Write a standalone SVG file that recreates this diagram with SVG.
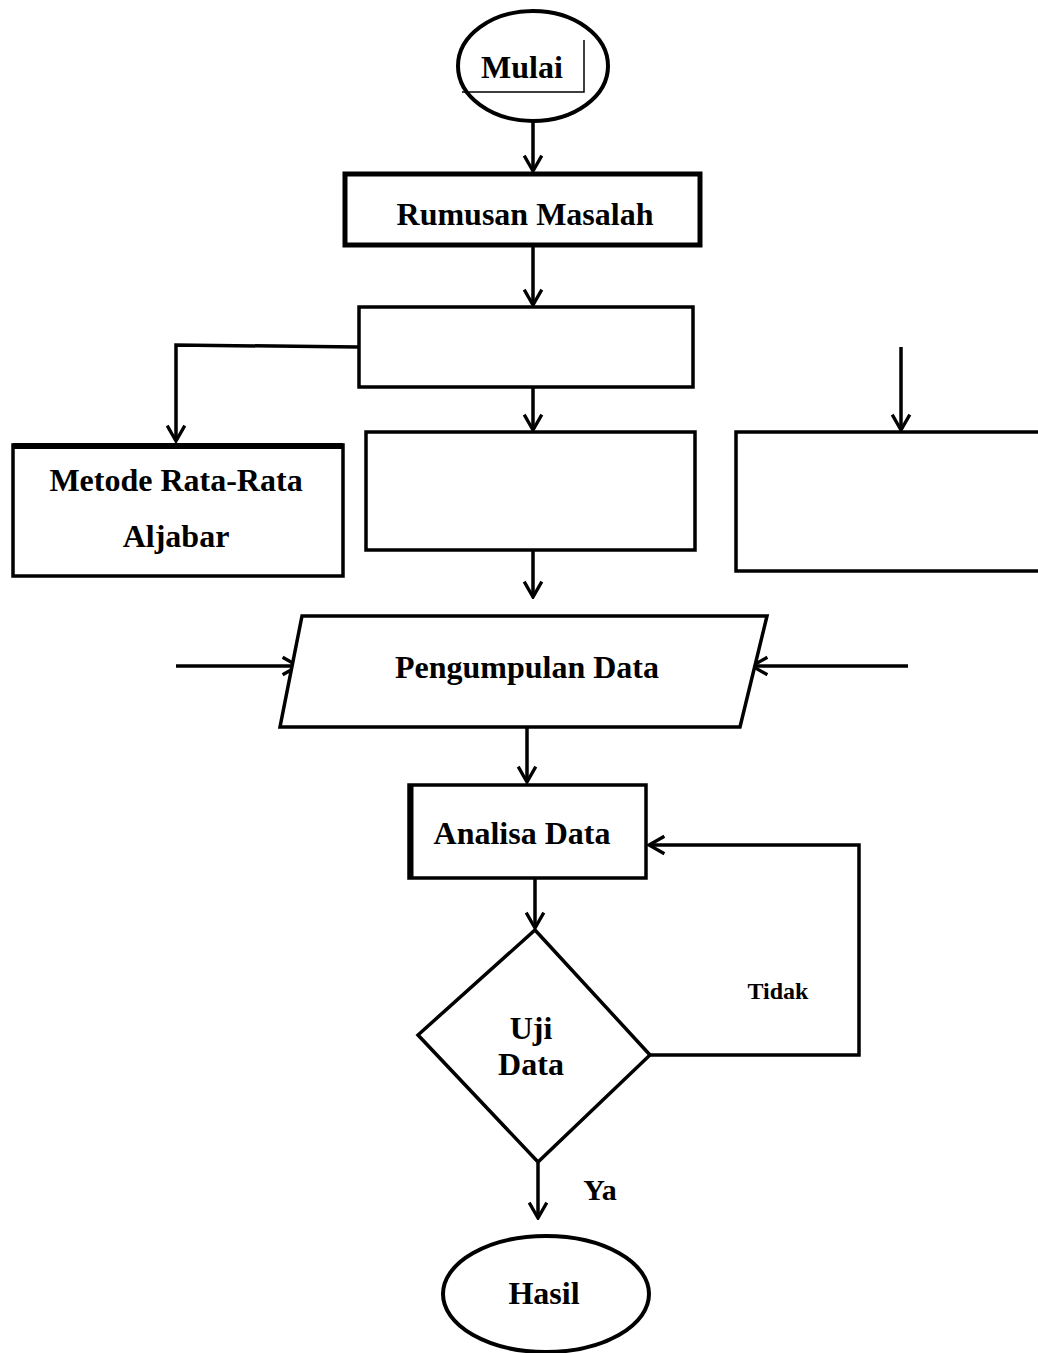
<svg xmlns="http://www.w3.org/2000/svg" width="1038" height="1353" viewBox="0 0 1038 1353">
<style>
.s{fill:#fff;stroke:#000;stroke-width:3.5}
.c{fill:none;stroke:#000;stroke-width:3.5}
.t{font-family:"Liberation Serif","Times New Roman",serif;font-weight:bold;font-size:32px;fill:#000;text-anchor:middle}
</style>
<defs>
<marker id="a" viewBox="0 0 20 20" refX="18" refY="10" markerWidth="22" markerHeight="22" markerUnits="userSpaceOnUse" orient="auto">
<path d="M4,2 L18,10 L4,18" fill="none" stroke="#000" stroke-width="3"/>
</marker>
</defs>
<rect width="1038" height="1353" fill="#fff"/>
<g id="connectors">
<line class="c" x1="533" y1="121" x2="533" y2="171" marker-end="url(#a)"/>
<line class="c" x1="533" y1="247" x2="533" y2="305" marker-end="url(#a)"/>
<polyline class="c" points="358,347 176,345 176,441" marker-end="url(#a)"/>
<line class="c" x1="533" y1="388" x2="533" y2="430" marker-end="url(#a)"/>
<line class="c" x1="901" y1="347" x2="901" y2="430" marker-end="url(#a)"/>
<line class="c" x1="533" y1="551" x2="533" y2="597" marker-end="url(#a)"/>
<line class="c" x1="176" y1="666" x2="298" y2="666" marker-end="url(#a)"/>
<line class="c" x1="908" y1="666" x2="752" y2="666" marker-end="url(#a)"/>
<line class="c" x1="527" y1="728" x2="527" y2="782" marker-end="url(#a)"/>
<line class="c" x1="535" y1="879" x2="535" y2="928" marker-end="url(#a)"/>
<polyline class="c" points="650,1055 859,1055 859,845 649,845" marker-end="url(#a)"/>
<line class="c" x1="538" y1="1163" x2="538" y2="1218" marker-end="url(#a)"/>
<text class="t" x="778" y="999" style="font-size:24px">Tidak</text>
<text class="t" x="600" y="1200" style="font-size:30px">Ya</text>
</g>
<g id="mulai">
<ellipse class="s" cx="533" cy="66" rx="75" ry="55" style="stroke-width:4"/>
<polyline fill="none" stroke="#000" stroke-width="1.5" points="462,92 584,92 584,40"/>
<text class="t" x="522" y="78">Mulai</text>
</g>
<g id="rumusan">
<rect class="s" x="345" y="174" width="355" height="71" style="stroke-width:5"/>
<text class="t" x="525" y="225">Rumusan Masalah</text>
</g>
<g id="box2">
<rect class="s" x="359" y="307" width="334" height="80"/>
</g>
<g id="metode">
<rect class="s" x="13" y="445" width="330" height="131"/>
<line x1="13" y1="446" x2="343" y2="446" stroke="#000" stroke-width="6"/>
<text class="t" x="176" y="491">Metode Rata-Rata</text>
<text class="t" x="176" y="547">Aljabar</text>
</g>
<g id="box3">
<rect class="s" x="366" y="432" width="329" height="118"/>
</g>
<g id="box4">
<rect class="s" x="736" y="432" width="310" height="139"/>
</g>
<g id="pengumpulan">
<polygon class="s" points="302,616 767,616 740,727 280,727"/>
<text class="t" x="527" y="678">Pengumpulan Data</text>
</g>
<g id="analisa">
<rect class="s" x="409" y="785" width="237" height="93"/>
<line x1="411" y1="785" x2="411" y2="878" stroke="#000" stroke-width="5"/>
<text class="t" x="522" y="844">Analisa Data</text>
</g>
<g id="uji">
<polygon class="s" points="535,930 650,1055 538,1162 418,1035"/>
<text class="t" x="531" y="1039">Uji</text>
<text class="t" x="531" y="1075">Data</text>
</g>
<g id="hasil">
<ellipse class="s" cx="546" cy="1294" rx="103" ry="58" style="stroke-width:4"/>
<text class="t" x="544" y="1304">Hasil</text>
</g>
</svg>
